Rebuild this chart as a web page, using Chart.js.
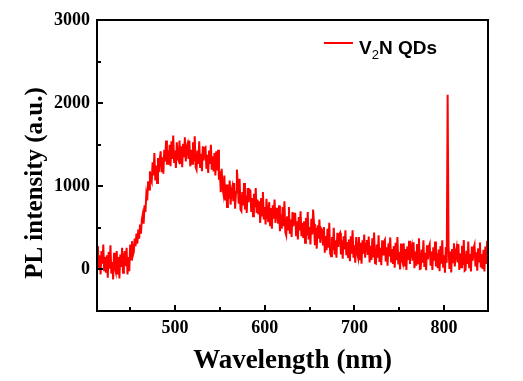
<!DOCTYPE html>
<html>
<head>
<meta charset="utf-8">
<script src="https://cdn.jsdelivr.net/npm/chart.js@4.4.1/dist/chart.umd.min.js"></script>
<style>
  html, body { margin: 0; padding: 0; background: #fff; }
  #plChart { display: block; }
</style>
</head>
<body>
<canvas id="plChart" width="523" height="381"></canvas>
<script>
// spectrum sampled every 1 nm, starting at 414 nm (one row = 10 nm)
const wlStart = 414;
const wlStep = 1;
const intensity = [
  280, 0, 170, -60, 220, 70, 300, -20, 150, -40,
  170, -100, 210, 10, 290, -50, 90, -120, 200, 20,
  -30, 220, -60, 150, -110, 180, 30, 260, -40, 140,
  220, 40, 260, -60, 150, -20, 300, 120, 340, 170,
  210, 370, 280, 430, 310, 480, 370, 540, 430, 600,
  660, 550, 770, 690, 900, 830, 1060, 960, 1180, 1080,
  1050, 1290, 1130, 1400, 1070, 1250, 1040, 1340, 1170, 1320,
  1420, 1170, 1350, 1150, 1440, 1300, 1550, 1260, 1430, 1260,
  1500, 1240, 1540, 1330, 1610, 1280, 1430, 1220, 1530, 1340,
  1310, 1550, 1270, 1480, 1230, 1510, 1350, 1590, 1300, 1470,
  1510, 1330, 1550, 1240, 1440, 1270, 1530, 1300, 1600, 1230,
  1200, 1430, 1270, 1540, 1220, 1390, 1180, 1480, 1310, 1460,
  1470, 1210, 1380, 1160, 1430, 1270, 1500, 1200, 1360, 1180,
  1400, 1130, 1420, 1190, 1440, 1080, 1180, 930, 1210, 980,
  910, 1130, 830, 1020, 750, 1020, 850, 1070, 780, 950,
  1000, 820, 1040, 730, 930, 1200, 1020, 790, 1090, 720,
  700, 930, 770, 1040, 720, 890, 680, 980, 810, 960,
  950, 690, 860, 640, 910, 750, 980, 680, 840, 660,
  820, 560, 860, 650, 930, 600, 750, 540, 850, 660,
  570, 810, 530, 740, 490, 770, 610, 840, 560, 730,
  730, 550, 770, 460, 660, 490, 750, 520, 820, 450,
  410, 640, 480, 750, 430, 600, 390, 690, 520, 670,
  670, 410, 580, 360, 630, 470, 700, 400, 560, 380,
  580, 320, 620, 410, 690, 360, 510, 300, 610, 420,
  720, 550, 290, 500, 250, 530, 370, 600, 320, 490,
  470, 290, 510, 200, 400, 230, 490, 260, 560, 190,
  160, 390, 230, 500, 180, 350, 140, 440, 270, 420,
  440, 180, 350, 130, 400, 240, 470, 170, 330, 150,
  360, 100, 400, 190, 470, 140, 290, 80, 390, 200,
  150, 390, 110, 320, 70, 350, 190, 420, 140, 310,
  355, 175, 395, 85, 285, 115, 375, 145, 445, 75,
  70, 300, 140, 410, 90, 260, 50, 350, 180, 330,
  355, 95, 265, 45, 315, 155, 385, 85, 245, 65,
  280, 20, 320, 110, 390, 60, 210, 0, 310, 120,
  75, 315, 35, 245, -5, 275, 115, 345, 65, 235,
  285, 105, 325, 15, 215, 45, 305, 75, 375, 5,
  10, 240, 80, 350, 30, 200, -10, 290, 120, 270,
  305, 45, 215, -5, 265, 105, 335, 35, 195, 15,
  240, -20, 280, 70, 350, 20, 170, -40, 270, 80,
  2100, 285, 5, 215, -35, 245, 85, 315, 35, 205,
  265, 85, 305, -5, 195, 25, 285, 55, 355, -15,
  -5, 225, 65, 335, 15, 185, -25, 275, 105, 255,
  295, 35, 205, -15, 255, 95, 325, 25, 185, 5,
  235, -25, 275, 65, 345
];

const xTicks = [500, 600, 700, 800];
const yTicks = [0, 1000, 2000, 3000];
const seriesLabel = 'V2N QDs';

const points = intensity.map((v, i) => ({ x: wlStart + i * wlStep, y: v }));

// frame, inward ticks (major + minor), y title and legend
const framePlugin = {
  id: 'frame',
  afterDraw(chart) {
    const { ctx, chartArea: ca, scales } = chart;
    ctx.save();
    ctx.strokeStyle = '#000';
    ctx.lineWidth = 2;
    ctx.strokeRect(ca.left, ca.top, ca.right - ca.left, ca.bottom - ca.top);

    const xs = scales.x, ys = scales.y;
    ctx.beginPath();
    xTicks.forEach((v) => {
      const px = Math.round(xs.getPixelForValue(v));
      ctx.moveTo(px, ca.bottom); ctx.lineTo(px, ca.bottom - 6);
      const m = v - 50;
      if (m > xs.min) {
        const pm = Math.round(xs.getPixelForValue(m));
        ctx.moveTo(pm, ca.bottom); ctx.lineTo(pm, ca.bottom - 4);
      }
    });
    yTicks.forEach((v) => {
      const py = Math.round(ys.getPixelForValue(v));
      ctx.moveTo(ca.left, py); ctx.lineTo(ca.left + 6, py);
      const m = v - 500;
      if (m > ys.min) {
        const pm = Math.round(ys.getPixelForValue(m));
        ctx.moveTo(ca.left, pm); ctx.lineTo(ca.left + 4, pm);
      }
    });
    ctx.stroke();

    // y axis title
    ctx.fillStyle = '#000';
    ctx.font = 'bold 25px "Liberation Serif", "Times New Roman", serif';
    ctx.textAlign = 'center';
    ctx.textBaseline = 'middle';
    ctx.translate(36, ca.top + 163);
    ctx.rotate(-Math.PI / 2);
    ctx.fillText('PL intensity (a.u.)', 0, 0);
    ctx.restore();

    // legend
    ctx.save();
    const lx = ca.right - 164;
    const ly = ca.top + 23;
    ctx.strokeStyle = '#ff0000';
    ctx.lineWidth = 2;
    ctx.beginPath();
    ctx.moveTo(lx, ly); ctx.lineTo(lx + 29, ly);
    ctx.stroke();
    ctx.fillStyle = '#000';
    ctx.textBaseline = 'alphabetic';
    ctx.textAlign = 'left';
    let tx = lx + 35;
    const base = ly + 11;
    ctx.font = 'bold 19px "Liberation Sans", Arial, sans-serif';
    ctx.fillText('V', tx, base);
    tx += ctx.measureText('V').width;
    ctx.font = '13px "Liberation Sans", Arial, sans-serif';
    ctx.fillText('2', tx, base + 5);
    tx += ctx.measureText('2').width;
    ctx.font = 'bold 19px "Liberation Sans", Arial, sans-serif';
    ctx.fillText('N QDs', tx, base);
    ctx.restore();
  }
};

const tickFont = { family: '"Liberation Serif", "Times New Roman", serif', size: 18, weight: 'bold' };

new Chart(document.getElementById('plChart'), {
  type: 'line',
  data: {
    datasets: [
      {
        label: seriesLabel,
        data: points,
        borderColor: '#ff0000',
        borderWidth: 2,
        pointRadius: 0,
        tension: 0,
        fill: false,
      },
    ],
  },
  options: {
    responsive: false,
    animation: false,
    layout: { padding: { left: 0, top: 20, right: 35, bottom: 0 } },
    plugins: {
      legend: { display: false },
      tooltip: { enabled: false },
    },
    scales: {
      x: {
        type: 'linear',
        min: 413,
        max: 849,
        grid: { display: false, drawTicks: false },
        border: { display: false },
        afterBuildTicks: (scale) => { scale.ticks = xTicks.map((v) => ({ value: v })); },
        ticks: {
          padding: 7,
          color: '#000',
          font: tickFont,
          maxRotation: 0,
          autoSkip: false,
          callback: (v) => String(v),
        },
        title: {
          display: true,
          text: 'Wavelength (nm)',
          color: '#000',
          font: { family: '"Liberation Serif", "Times New Roman", serif', size: 27, weight: 'bold' },
          padding: { top: 0, bottom: 4 },
        },
        afterFit: (scale) => { scale.height = 70; },
      },
      y: {
        min: -500,
        max: 3000,
        grid: { display: false, drawTicks: false },
        border: { display: false },
        afterBuildTicks: (scale) => { scale.ticks = yTicks.map((v) => ({ value: v })); },
        ticks: {
          padding: 7,
          color: '#000',
          font: tickFont,
          autoSkip: false,
          callback: (v) => String(v),
        },
        afterFit: (scale) => { scale.width = 97; },
      },
    },
  },
  plugins: [framePlugin],
});
</script>
</body>
</html>
